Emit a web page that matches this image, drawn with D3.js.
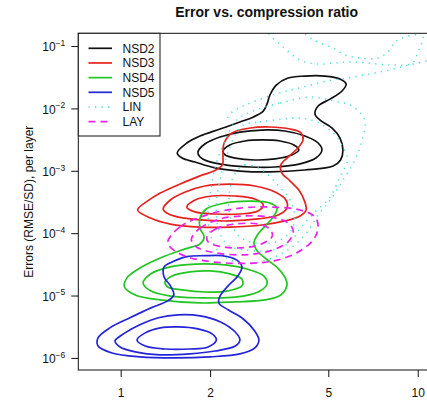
<!DOCTYPE html>
<html>
<head>
  <title>Error vs. compression ratio</title>
  <script src="https://d3js.org/d3.v7.min.js"></script>
  <style>
    body { margin: 0; background: #fff; }
    text { font-family: "Liberation Sans", Arial, sans-serif; fill: #111; }
  </style>
</head>
<body>
  <div id="chart"></div>

  <script>
    // contour rings: [compression ratio, error]
    var seriesNames = ["NSD2", "NSD3", "NSD4", "NSD5", "LIN", "LAY"];
    var xTicks = [1, 2, 5, 10];
    var yTicks = [1e-1, 1e-2, 1e-3, 1e-4, 1e-5, 1e-6];
    var yTickExp = [-1, -2, -3, -4, -5, -6];

    var nsd2 = [
      [[2.21,2.07e-3],[2.33,2.59e-3],[2.62,3.0e-3],[2.99,3.12e-3],[3.44,3.0e-3],[3.83,2.59e-3],[3.98,2.15e-3],[3.77,1.79e-3],[3.31,1.55e-3],[2.83,1.49e-3],[2.43,1.6e-3],[2.25,1.79e-3]],
      [[1.82,2.0e-3],[1.92,2.69e-3],[2.16,3.48e-3],[2.52,4.18e-3],[2.99,4.5e-3],[3.57,4.34e-3],[4.17,3.61e-3],[4.62,2.79e-3],[4.76,2.15e-3],[4.54,1.6e-3],[4.02,1.29e-3],[3.31,1.15e-3],[2.73,1.15e-3],[2.25,1.24e-3],[1.95,1.44e-3],[1.85,1.66e-3]],
      [[1.55,1.93e-3],[1.67,2.79e-3],[1.85,3.61e-3],[2.16,4.67e-3],[2.52,6.05e-3],[2.79,7.24e-3],[3.02,9.06e-3],[3.11,1.18e-2],[3.18,1.64e-2],[3.34,2.37e-2],[3.66,3.07e-2],[4.17,3.3e-2],[4.87,3.3e-2],[5.47,2.96e-2],[5.74,2.46e-2],[5.56,1.9e-2],[5.07,1.41e-2],[4.62,1.09e-2],[4.51,8.1e-3],[4.69,6.5e-3],[5.15,4.85e-3],[5.47,3.38e-3],[5.6,2.15e-3],[5.5,1.49e-3],[5.19,1.19e-3],[4.17,1.03e-3],[3.18,9.6e-4],[2.52,9.9e-4],[2.08,1.11e-3],[1.78,1.38e-3],[1.61,1.6e-3]]
    ];

    var nsd3 = [
      [[2.23,2.79e-3],[2.37,4.04e-3],[2.73,4.85e-3],[3.18,5.03e-3],[3.72,4.67e-3],[4.05,4.04e-3],[4.11,3.12e-3],[3.95,2.32e-3],[3.66,1.66e-3],[3.46,1.24e-3],[3.49,9.2e-4],[3.72,6.85e-4],[3.98,4.9e-4],[4.17,3.15e-4],[4.21,2.35e-4],[4.02,1.89e-4],[3.57,1.57e-4],[2.99,1.35e-4],[2.33,1.25e-4],[1.85,1.25e-4],[1.47,1.4e-4],[1.26,1.75e-4],[1.14,2.35e-4],[1.23,3.27e-4],[1.36,4.4e-4],[1.58,6.1e-4],[1.85,8.3e-4],[2.06,9.9e-4],[2.2,1.24e-3],[2.21,1.66e-3],[2.21,2.15e-3]],
      [[1.39,2.44e-4],[1.47,3.4e-4],[1.65,4.56e-4],[1.92,5.7e-4],[2.33,6.1e-4],[2.83,5.7e-4],[3.31,4.56e-4],[3.6,3.4e-4],[3.63,2.52e-4],[3.39,1.96e-4],[2.9,1.69e-4],[2.33,1.57e-4],[1.85,1.63e-4],[1.55,1.82e-4],[1.43,2.1e-4]],
      [[1.67,2.62e-4],[1.78,3.4e-4],[2.03,3.94e-4],[2.43,3.94e-4],[2.83,3.53e-4],[3.02,2.83e-4],[2.9,2.27e-4],[2.52,2.03e-4],[2.08,2.03e-4],[1.78,2.19e-4]]
    ];

    var nsd4 = [
      [[1.85,1.75e-4],[1.94,2.44e-4],[2.25,3.05e-4],[2.73,3.27e-4],[3.18,3.05e-4],[3.36,2.52e-4],[3.28,1.89e-4],[3.09,1.35e-4],[2.9,9.7e-5],[2.81,7.0e-5],[2.88,5.2e-5],[3.09,3.85e-5],[3.38,2.76e-5],[3.57,1.98e-5],[3.63,1.48e-5],[3.46,1.02e-5],[3.06,8.5e-6],[2.43,7.9e-6],[1.85,7.6e-6],[1.36,8.5e-6],[1.12,1.02e-5],[1.03,1.37e-5],[1.05,1.92e-5],[1.16,2.76e-5],[1.36,4.0e-5],[1.65,5.6e-5],[1.85,6.75e-5],[1.91,8.7e-5],[1.85,1.2e-4]],
      [[1.19,1.59e-5],[1.26,2.22e-5],[1.47,2.88e-5],[1.78,3.2e-5],[2.25,3.1e-5],[2.73,2.57e-5],[3.03,2.06e-5],[3.11,1.54e-5],[2.9,1.14e-5],[2.43,9.4e-6],[1.85,9.2e-6],[1.47,9.8e-6],[1.26,1.19e-5]],
      [[1.41,1.65e-5],[1.49,2.06e-5],[1.71,2.39e-5],[2.0,2.48e-5],[2.33,2.22e-5],[2.56,1.83e-5],[2.56,1.43e-5],[2.3,1.19e-5],[1.92,1.14e-5],[1.61,1.23e-5],[1.44,1.37e-5]]
    ];

    var nsd5 = [
      [[1.49,3.45e-5],[1.67,4.2e-5],[1.92,4.35e-5],[2.19,4.35e-5],[2.46,3.7e-5],[2.56,2.88e-5],[2.48,2.06e-5],[2.3,1.43e-5],[2.16,9.8e-6],[2.14,7.6e-6],[2.3,5.9e-6],[2.58,4.25e-6],[2.81,2.8e-6],[2.92,1.94e-6],[2.83,1.45e-6],[2.52,1.16e-6],[2.0,1.04e-6],[1.52,1.0e-6],[1.16,1.04e-6],[0.935,1.2e-6],[0.839,1.55e-6],[0.839,2.09e-6],[0.92,3.03e-6],[1.075,4.4e-6],[1.27,6.4e-6],[1.44,8.2e-6],[1.51,1.02e-5],[1.47,1.43e-5],[1.4,1.98e-5],[1.4,2.88e-5]],
      [[0.957,1.87e-6],[1.034,2.52e-6],[1.16,3.4e-6],[1.34,4.4e-6],[1.56,4.9e-6],[1.85,4.73e-6],[2.16,3.8e-6],[2.43,2.6e-6],[2.52,1.94e-6],[2.43,1.55e-6],[2.08,1.29e-6],[1.71,1.16e-6],[1.36,1.12e-6],[1.12,1.25e-6],[0.995,1.5e-6]],
      [[1.135,1.94e-6],[1.21,2.52e-6],[1.36,3.03e-6],[1.56,3.14e-6],[1.82,2.92e-6],[2.03,2.43e-6],[2.1,1.94e-6],[1.97,1.5e-6],[1.71,1.39e-6],[1.41,1.39e-6],[1.21,1.55e-6]]
    ];

    var lin = [
      [[2.73,8.7e-3],[3.44,1.22e-2],[4.34,1.52e-2],[5.07,1.36e-2],[5.92,1.13e-2],[6.39,8.7e-3],[6.65,6.05e-3],[6.5,3.12e-3],[6.15,1.49e-3],[5.6,7.1e-4],[5.07,3.4e-4],[4.62,1.96e-4],[4.17,9.35e-5],[3.57,5.0e-5],[2.94,3.45e-5],[2.52,3.3e-5],[2.19,4.5e-5],[2.03,7.8e-5],[1.97,1.96e-4],[2.01,4.9e-4],[2.09,1.24e-3],[2.25,3.12e-3],[2.46,6.5e-3]],
      [[2.58,5.4e-3],[2.94,6.05e-3],[3.52,6.75e-3],[4.02,7.0e-3],[4.58,6.05e-3],[5.19,4.04e-3],[5.6,2.41e-3],[5.8,1.49e-3],[5.47,7.95e-4],[5.07,3.8e-4],[4.51,2.19e-4],[4.02,1.2e-4],[3.72,7.2e-5],[3.24,5.4e-5],[2.62,5.4e-5],[2.29,6.5e-5],[2.14,1.12e-4],[2.1,2.83e-4],[2.16,7.1e-4],[2.28,1.79e-3],[2.43,3.75e-3]],
      [[2.41,8.6e-4],[2.62,1.24e-3],[2.99,1.03e-3],[3.38,5.9e-4],[3.72,3.4e-4],[3.86,1.82e-4],[3.72,1.04e-4],[3.31,7.2e-5],[2.83,7.0e-5],[2.48,9.35e-5],[2.33,1.96e-4],[2.32,4.1e-4]]
    ];

    // LIN lines that run off the edge of the plot
    var linOpen = [
      [[2.29,7.0e-3],[2.37,8.7e-3],[2.58,1.09e-2],[3.01,1.46e-2],[3.52,1.83e-2],[4.11,2.2e-2],[4.94,2.75e-2],[5.78,3.07e-2],[6.55,3.43e-2],[7.46,3.83e-2],[9.07,4.78e-2],[11.0,5.97e-2],[13.3,7.4e-2]],
      [[3.07,1.95e-1],[3.18,1.5e-1],[3.52,9.64e-2],[4.02,5.97e-2],[4.58,5.15e-2],[5.26,5.35e-2],[5.92,5.55e-2],[6.75,5.35e-2],[8.06,4.97e-2],[9.6,5.35e-2],[10.0,7.75e-2],[10.35,1.16e-1],[10.6,1.8e-1]],
      [[4.02,1.8e-1],[4.45,1.25e-1],[5.19,9.3e-2],[5.69,7.2e-2],[6.39,6.4e-2],[7.3,6.4e-2],[7.93,8.0e-2],[8.4,1.16e-1],[9.07,1.4e-1],[10.0,1.57e-1],[10.6,1.95e-1]]
    ];

    var lay = [
      [[1.44,7.2e-5],[1.58,1.25e-4],[1.95,1.96e-4],[2.52,2.52e-4],[3.26,2.62e-4],[4.02,2.35e-4],[4.51,1.82e-4],[4.62,1.25e-4],[4.45,7.8e-5],[3.92,4.85e-5],[3.36,3.7e-5],[2.79,3.3e-5],[2.05,3.45e-5],[1.67,4.2e-5],[1.49,5.6e-5]],
      [[1.73,8.0e-5],[1.85,1.2e-4],[2.16,1.69e-4],[2.62,1.89e-4],[3.18,1.82e-4],[3.66,1.46e-4],[3.81,1.08e-4],[3.66,7.25e-5],[3.18,5.2e-5],[2.62,4.5e-5],[2.08,4.85e-5],[1.8,6.0e-5]],
      [[1.95,8.7e-5],[2.08,1.16e-4],[2.43,1.4e-4],[2.9,1.4e-4],[3.18,1.16e-4],[3.24,9.0e-5],[2.99,6.75e-5],[2.52,5.8e-5],[2.12,6.25e-5],[1.97,7.2e-5]]
    ];

    var seriesRings = [nsd2, nsd3, nsd4, nsd5, lin, lay];

    // styles
    var colors = ["#111111", "#e4221f", "#22c522", "#2424d8", "#4ddede", "#ec22ec"];
    var dashes = [null, null, null, null, "1.3 5.2", "7 5"];

    var W = 427, H = 410;
    var plot = {left: 78.3, top: 33.3, right: 455, bottom: 370};

    var x = d3.scaleLog()
      .domain([0.72, 13.35])
      .range([plot.left, plot.right]);

    var y = d3.scaleLog()
      .domain([6.4e-7, 0.16])
      .range([plot.bottom, plot.top]);

    var svg = d3.select("#chart")
      .append("svg")
      .attr("width", W)
      .attr("height", H);

    svg.append("defs").append("clipPath")
      .attr("id", "plotClip")
      .append("rect")
      .attr("x", plot.left)
      .attr("y", plot.top)
      .attr("width", plot.right - plot.left)
      .attr("height", plot.bottom - plot.top);

    var closedLine = d3.line()
      .x(function(d) { return x(d[0]); })
      .y(function(d) { return y(d[1]); })
      .curve(d3.curveCatmullRomClosed.alpha(0.5));

    var openLine = d3.line()
      .x(function(d) { return x(d[0]); })
      .y(function(d) { return y(d[1]); })
      .curve(d3.curveCatmullRom.alpha(0.5));

    var marks = svg.append("g").attr("clip-path", "url(#plotClip)");

    seriesRings.forEach(function(rings, i) {
      var lw = seriesNames[i] === "LIN" ? 1.5 : 1.7;
      marks.selectAll(".ring" + i)
        .data(rings)
        .enter().append("path")
        .attr("class", "ring" + i)
        .attr("d", closedLine)
        .attr("fill", "none")
        .attr("stroke", colors[i])
        .attr("stroke-width", lw)
        .attr("stroke-dasharray", dashes[i]);

      if (seriesNames[i] === "LIN") {
        marks.selectAll(".open" + i)
          .data(linOpen)
          .enter().append("path")
          .attr("class", "open" + i)
          .attr("d", openLine)
          .attr("fill", "none")
          .attr("stroke", colors[i])
          .attr("stroke-width", lw)
          .attr("stroke-dasharray", dashes[i]);
      }
    });

    // frame
    svg.append("rect")
      .attr("x", plot.left)
      .attr("y", plot.top)
      .attr("width", plot.right - plot.left)
      .attr("height", plot.bottom - plot.top)
      .attr("fill", "none")
      .attr("stroke", "#111")
      .attr("stroke-width", 1);

    // x axis
    var xAxis = svg.append("g")
      .attr("transform", "translate(0," + plot.bottom + ")")
      .call(d3.axisBottom(x)
        .tickValues(xTicks)
        .tickFormat(d3.format("d"))
        .tickSize(7)
        .tickSizeOuter(0)
        .tickPadding(11));
    xAxis.select(".domain").remove();
    xAxis.selectAll("line").attr("stroke", "#111");
    xAxis.selectAll("text")
      .attr("font-size", 12)
      .attr("font-family", "Liberation Sans, Arial, sans-serif")
      .attr("fill", "#222");

    // y axis with 10^k labels
    var yAxis = svg.append("g")
      .attr("transform", "translate(" + plot.left + ",0)")
      .call(d3.axisLeft(y)
        .tickValues(yTicks)
        .tickSize(7)
        .tickSizeOuter(0)
        .tickPadding(6));
    yAxis.select(".domain").remove();
    yAxis.selectAll("line").attr("stroke", "#111");
    yAxis.selectAll("text")
      .attr("font-size", 12)
      .attr("font-family", "Liberation Sans, Arial, sans-serif")
      .attr("fill", "#222")
      .attr("dy", "0.4em")
      .text(null)
      .each(function(d, i) {
        var t = d3.select(this);
        t.append("tspan").text("10");
        t.append("tspan")
          .attr("font-size", 8.5)
          .attr("dy", -5.5)
          .text("\u2212" + Math.abs(yTickExp[i]));
      });

    // title and axis label
    svg.append("text")
      .attr("x", (plot.left + plot.right) / 2)
      .attr("y", 17)
      .attr("text-anchor", "middle")
      .attr("font-size", 14)
      .attr("font-weight", "bold")
      .text("Error vs. compression ratio");

    svg.append("text")
      .attr("transform", "rotate(-90)")
      .attr("x", -(plot.top + plot.bottom) / 2)
      .attr("y", 33)
      .attr("text-anchor", "middle")
      .attr("font-size", 12)
      .attr("fill", "#222")
      .text("Errors (RMSE/SD), per layer");

    // legend
    var legend = svg.append("g");
    legend.append("rect")
      .attr("x", plot.left)
      .attr("y", plot.top)
      .attr("width", 81.7)
      .attr("height", 102.7)
      .attr("fill", "#fff")
      .attr("stroke", "#111")
      .attr("stroke-width", 1);

    var rowY = function(i) { return 48.3 + i * 14.67; };

    legend.selectAll(".legLine")
      .data(seriesNames)
      .enter().append("line")
      .attr("x1", 88.5).attr("x2", 112)
      .attr("y1", function(d, i) { return rowY(i); })
      .attr("y2", function(d, i) { return rowY(i); })
      .attr("stroke", function(d, i) { return colors[i]; })
      .attr("stroke-width", function(d) { return d === "LIN" ? 1.5 : 1.7; })
      .attr("stroke-dasharray", function(d, i) { return dashes[i]; });

    legend.selectAll(".legText")
      .data(seriesNames)
      .enter().append("text")
      .attr("x", 122.5)
      .attr("y", function(d, i) { return rowY(i) + 4.3; })
      .attr("font-size", 12)
      .attr("fill", "#222")
      .text(function(d) { return d; });
  </script>
</body>
</html>
